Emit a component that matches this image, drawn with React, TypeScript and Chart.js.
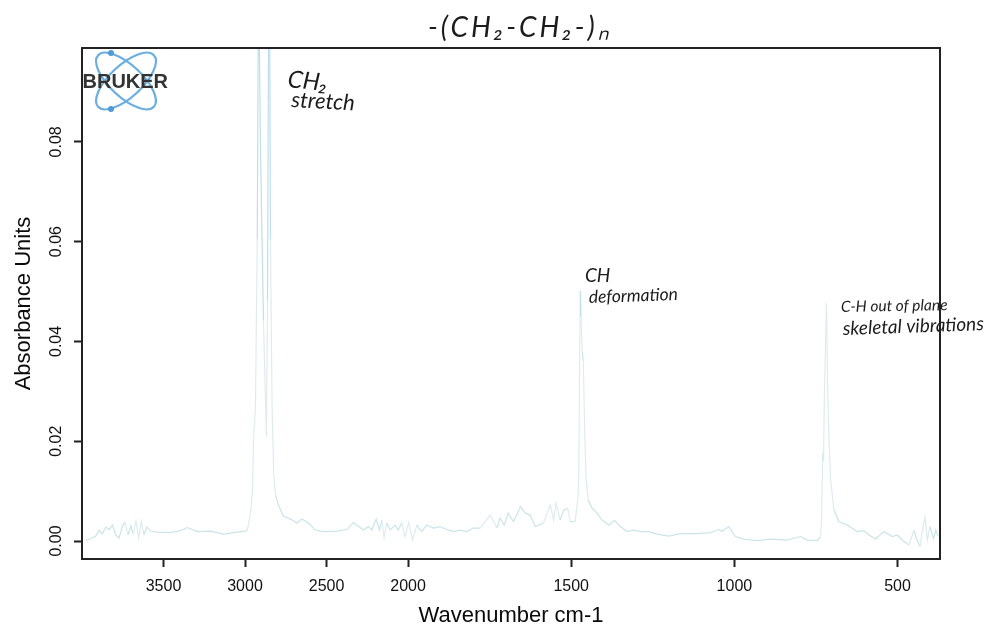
import React, { useEffect, useRef } from "react";
import { Chart, LinearScale, registerables } from "chart.js";

const wavenumbers = [
  3977, 3946, 3916, 3895, 3875, 3854, 3834, 3813, 3793, 3773, 3752, 3736, 3718, 3701, 3685, 3669, 3652, 3636, 3620, 3603,
  3579, 3538, 3457, 3395, 3354, 3293, 3212, 3130, 3049, 2998, 2986, 2966, 2954, 2948, 2936, 2925, 2917, 2905, 2887, 2869,
  2862, 2854, 2850, 2844, 2834, 2824, 2813, 2795, 2765, 2722, 2681, 2651, 2610, 2569, 2518, 2437, 2375, 2335, 2273, 2243,
  2222, 2196, 2175, 2161, 2147, 2131, 2110, 2080, 2059, 2039, 2018, 1998, 1986, 1973, 1958, 1943, 1922, 1902, 1881, 1861,
  1840, 1820, 1800, 1779, 1748, 1728, 1718, 1705, 1693, 1677, 1667, 1656, 1641, 1626, 1610, 1585, 1564, 1554, 1546, 1534,
  1523, 1511, 1503, 1488, 1480, 1477, 1475, 1473, 1472, 1470, 1466, 1463, 1458, 1454, 1448, 1436, 1421, 1406, 1385, 1367,
  1350, 1329, 1309, 1288, 1263, 1237, 1201, 1166, 1114, 1073, 1048, 1038, 1017, 997, 971, 930, 889, 838, 797, 777,
  746, 736, 733, 731, 730, 728, 727, 724, 718, 714, 710, 705, 695, 680, 654, 624, 603, 588, 567, 542,
  516, 501, 486, 465, 450, 442, 431, 424, 416, 409, 401, 390, 383, 376,
];
const absorbance = [
  0.0001, 0.0005, 0.001, 0.0021, 0.0014, 0.0028, 0.0023, 0.0032, 0.0012, 0.0006, 0.003, 0.0038, 0.0012, 0.003, 0.0014, 0.004, 0.0006, 0.004, 0.0012, 0.0028,
  0.002, 0.0018, 0.0017, 0.0021, 0.0027, 0.0019, 0.002, 0.0014, 0.0018, 0.002, 0.0022, 0.0056, 0.0102, 0.0202, 0.0269, 0.0604, 0.115, 0.0784, 0.0443, 0.0209,
  0.0483, 0.115, 0.115, 0.0604, 0.0269, 0.0136, 0.0092, 0.0072, 0.005, 0.0044, 0.0036, 0.0044, 0.0036, 0.0022, 0.0019, 0.002, 0.0023, 0.0037, 0.0022, 0.0029,
  0.0022, 0.0044, 0.0022, 0.0042, 0.0007, 0.0036, 0.0022, 0.0032, 0.0022, 0.0037, 0.0009, 0.0037, 0.0001, 0.0032, 0.0019, 0.0032, 0.0026, 0.0029, 0.0023, 0.0019,
  0.0022, 0.0019, 0.0026, 0.0026, 0.0052, 0.0026, 0.0046, 0.0032, 0.0056, 0.0039, 0.0052, 0.0069, 0.0056, 0.0052, 0.0029, 0.0036, 0.0072, 0.0042, 0.0076, 0.0042,
  0.0062, 0.0066, 0.0039, 0.0039, 0.0082, 0.0122, 0.03, 0.045, 0.0501, 0.045, 0.038, 0.036, 0.02, 0.0122, 0.0082, 0.0066, 0.0056, 0.0042, 0.0032, 0.0041,
  0.0029, 0.0019, 0.0022, 0.0019, 0.0019, 0.0014, 0.001, 0.0015, 0.0015, 0.0017, 0.0023, 0.0019, 0.0029, 0.0009, 0.0004, 0.0001, 0.0004, 0.0002, 0.0009, 0.0002,
  0.0001, 0.0009, 0.004, 0.0122, 0.0165, 0.0178, 0.016, 0.03, 0.0477, 0.03, 0.02, 0.0122, 0.0062, 0.0039, 0.0032, 0.0019, 0.0021, 0.0012, 0.0004, 0.0019,
  0.0009, 0.0012, 0.0002, -0.0008, 0.0022, 0.0005, -0.0011, 0.0022, 0.0048, 0.0002, 0.0029, 0.0005, 0.0022, 0.001,
];
const xTickValues = [3500, 3000, 2500, 2000, 1500, 1000, 500];
const yTickValues = [0, 0.02, 0.04, 0.06, 0.08];

const xTitle = "Wavenumber cm-1";
const yTitle = "Absorbance Units";
const formula = "-(CH₂-CH₂-)ₙ";
const logoText = "BRUKER";
const stretchNote = ["CH₂", "stretch"];
const deformationNote = ["CH", "deformation"];
const vibrationNote = ["C-H out of plane", "skeletal vibrations"];

const X_HIGH = 4000;
const X_BREAK = 2000;
const X_LOW = 370;
const UPPER_SHARE = 0.38;

class BrokenWavenumberScale extends LinearScale {
  static id = "brokenWavenumber";
  static defaults = LinearScale.defaults;
  getPixelForValue(v: number) {
    const f =
      v >= X_BREAK
        ? ((X_HIGH - v) / (X_HIGH - X_BREAK)) * UPPER_SHARE
        : UPPER_SHARE + ((X_BREAK - v) / (X_BREAK - X_LOW)) * (1 - UPPER_SHARE);
    return this.left + f * this.width;
  }
  getValueForPixel(p: number) {
    const f = (p - this.left) / this.width;
    return f <= UPPER_SHARE
      ? X_HIGH - (f / UPPER_SHARE) * (X_HIGH - X_BREAK)
      : X_BREAK - ((f - UPPER_SHARE) / (1 - UPPER_SHARE)) * (X_BREAK - X_LOW);
  }
}

Chart.register(...registerables, BrokenWavenumberScale);

const HAND = "'Lato', 'Liberation Sans', sans-serif";

function note(ctx: CanvasRenderingContext2D, text: string, x: number, y: number, size: number, angle: number, spacing = 0) {
  ctx.save();
  ctx.translate(x, y);
  ctx.rotate((angle * Math.PI) / 180);
  ctx.font = `italic ${size}px ${HAND}`;
  (ctx as any).letterSpacing = `${spacing}px`;
  ctx.fillStyle = "#1c1c1c";
  ctx.textAlign = "left";
  ctx.textBaseline = "alphabetic";
  ctx.fillText(text, 0, 0);
  ctx.restore();
}

const framePlugin = {
  id: "frame",
  afterDraw(chart: any) {
    const { ctx, chartArea: a } = chart;
    ctx.save();
    ctx.strokeStyle = "#222222";
    ctx.lineWidth = 2;
    ctx.strokeRect(a.left, a.top, a.right - a.left, a.bottom - a.top);

    // logo
    const cx = a.left + 44;
    const cy = a.top + 33;
    ctx.strokeStyle = "#6aaee0";
    ctx.lineWidth = 2.2;
    [Math.PI / 4.2, -Math.PI / 4.2].forEach((r) => {
      ctx.beginPath();
      ctx.ellipse(cx, cy, 38, 16, r, 0, Math.PI * 2);
      ctx.stroke();
    });
    ctx.fillStyle = "#4f9bd8";
    [[-15, -28], [-15, 28]].forEach(([dx, dy]) => {
      ctx.beginPath();
      ctx.arc(cx + dx, cy + dy, 3, 0, Math.PI * 2);
      ctx.fill();
    });
    ctx.fillStyle = "#333333";
    ctx.font = "bold 20px 'Liberation Sans', sans-serif";
    ctx.textAlign = "left";
    ctx.textBaseline = "alphabetic";
    ctx.fillText(logoText, a.left + 0.5, a.top + 40);

    // handwritten notes
    note(ctx, formula, 428, 37, 28, 0, 3);
    note(ctx, stretchNote[0], 287, 87, 24, 6);
    note(ctx, stretchNote[1], 291, 107, 22, 3);
    note(ctx, deformationNote[0], 585, 282, 19, 0);
    note(ctx, deformationNote[1], 589, 303, 17.5, -2);
    note(ctx, vibrationNote[0], 841, 312, 15.5, -1);
    note(ctx, vibrationNote[1], 843, 335, 19, -2);
    ctx.restore();
  },
};

export default function App() {
  const ref = useRef<HTMLCanvasElement>(null);
  useEffect(() => {
    const tickFont = { family: "'Liberation Sans', Arial, sans-serif", size: 16 };
    const titleFont = { family: "'Liberation Sans', Arial, sans-serif", size: 22 };
    const lineColor = "#cbe4e9";
    const chart = new Chart(ref.current!, {
      type: "line",
      data: {
        datasets: [
          {
            data: wavenumbers.map((x, i) => ({ x, y: absorbance[i] })),
            borderColor: lineColor,
            borderWidth: 1.2,
            pointRadius: 0,
            tension: 0,
            fill: false,
            segment: {
              borderColor: (c: any) => {
                if (Math.abs(c.p0.y - c.p1.y) < 12) return lineColor;
                const mid = (c.p0.parsed.y + c.p1.parsed.y) / 2;
                return mid > 0.045 ? "#bfdfe9" : "#dfecee";
              },
            },
          },
        ],
      },
      options: {
        responsive: false,
        animation: false,
        parsing: false,
        layout: { padding: { top: 48, right: 63, left: 0, bottom: 0 } },
        plugins: { legend: { display: false }, tooltip: { enabled: false }, title: { display: false } },
        scales: {
          x: {
            type: "brokenWavenumber",
            min: X_LOW,
            max: X_HIGH,
            afterBuildTicks: (s: any) => {
              s.ticks = xTickValues.map((value) => ({ value }));
            },
            afterFit: (s: any) => {
              s.height = 71;
            },
            grid: { display: true, drawOnChartArea: false, drawTicks: true, tickLength: 8, tickWidth: 2, tickColor: "#222222" },
            border: { display: false },
            ticks: { callback: (v: any) => String(v), font: tickFont, color: "#111111", padding: 10, autoSkip: false, maxRotation: 0, minRotation: 0 },
            title: { display: true, text: xTitle, font: titleFont, color: "#0a0a0a", padding: { top: 6, bottom: 1 } },
          },
          y: {
            type: "linear",
            min: -0.0036,
            max: 0.0988,
            afterBuildTicks: (s: any) => {
              s.ticks = yTickValues.map((value) => ({ value }));
            },
            afterFit: (s: any) => {
              s.width = 82;
            },
            grid: { display: true, drawOnChartArea: false, drawTicks: true, tickLength: 8, tickWidth: 2, tickColor: "#222222" },
            border: { display: false },
            ticks: { callback: (v: any) => Number(v).toFixed(2), font: tickFont, color: "#111111", padding: 2, minRotation: 90, maxRotation: 90, crossAlign: "center", autoSkip: false },
            title: { display: true, text: yTitle, font: titleFont, color: "#0a0a0a", padding: { top: 11, bottom: 0 } },
          },
        },
      } as any,
      plugins: [framePlugin],
    } as any);
    return () => chart.destroy();
  }, []);
  return (
    <div style={{ position: "absolute", left: 0, top: 0, width: 1003, height: 630, background: "#ffffff" }}>
      <canvas ref={ref} width={1003} height={630} style={{ display: "block" }} />
    </div>
  );
}
